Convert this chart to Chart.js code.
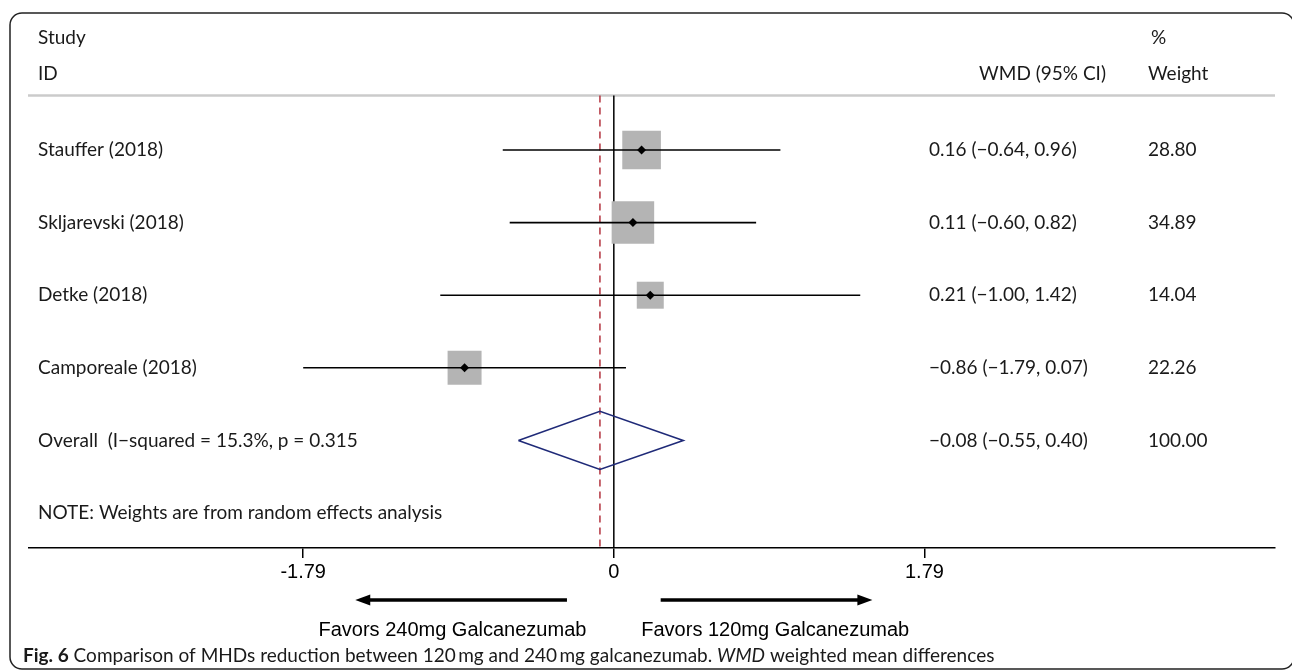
<!DOCTYPE html>
<html lang="en">
<head>
<meta charset="UTF-8">
<title>Forest plot - 120 mg vs 240 mg galcanezumab</title>
<script src="https://cdn.jsdelivr.net/npm/chart.js@4"></script>
<style>
html,body{margin:0;padding:0;background:#fff;overflow:hidden;}
#wrap{position:relative;width:1292px;height:670px;}
</style>
</head>
<body>
<div id="wrap"><canvas id="chart"></canvas></div>
<script>
// study rows
const studies  = ['Stauffer (2018)', 'Skljarevski (2018)', 'Detke (2018)', 'Camporeale (2018)'];
const wmd      = [0.16, 0.11, 0.21, -0.86];
const ciLow    = [-0.64, -0.60, -1.00, -1.79];
const ciHigh   = [0.96, 0.82, 1.42, 0.07];
const weights  = [28.80, 34.89, 14.04, 22.26];

// pooled (random effects)
const overallEst  = -0.08;
const overallLow  = -0.55;
const overallHigh = 0.40;
const overallWeight = 100.00;
const overallLabel = 'Overall  (I\u2212squared = 15.3%, p = 0.315';
const noteText = 'NOTE: Weights are from random effects analysis';

// axis
const tickVals   = [-1.79, 0, 1.79];
const tickLabels = ['-1.79', '0', '1.79'];
const favorsLeft  = 'Favors 240mg Galcanezumab';
const favorsRight = 'Favors 120mg Galcanezumab';

const TXT = '#1a1a1a';
const FONT = 'Lato, "Open Sans", sans-serif';

function fmt(v){ return (v < 0 ? '\u2212' : '') + Math.abs(v).toFixed(2); }
function ciText(e, lo, hi){ return fmt(e) + ' (' + fmt(lo) + ', ' + fmt(hi) + ')'; }

// datasets (first one is drawn on top)
const datasets = [];
// centre dots
datasets.push({
  data: wmd.map((v, i) => ({x: v, y: i + 1})),
  pointStyle: 'rectRot', pointRadius: 4.5, backgroundColor: '#000', borderWidth: 0, showLine: false
});
// CI whiskers
studies.forEach((s, i) => {
  datasets.push({
    data: [{x: ciLow[i], y: i + 1}, {x: ciHigh[i], y: i + 1}],
    showLine: true, borderColor: '#000', borderWidth: 1.6, pointRadius: 0
  });
});
// weight boxes, side proportional to sqrt(weight)
datasets.push({
  data: wmd.map((v, i) => ({x: v, y: i + 1})),
  pointStyle: 'rect',
  pointRadius: weights.map(w => 7.2 * Math.sqrt(w) / Math.SQRT2),
  backgroundColor: '#b4b4b4', borderWidth: 0, showLine: false
});
// pooled diamond
const dh = 0.4;
datasets.push({
  data: [
    {x: overallLow, y: 5}, {x: overallEst, y: 5 - dh}, {x: overallHigh, y: 5},
    {x: overallEst, y: 5 + dh}, {x: overallLow, y: 5}
  ],
  showLine: true, borderColor: '#1f2a78', borderWidth: 1.6, pointRadius: 0, tension: 0
});
// overall effect dashed line
datasets.push({
  data: [{x: overallEst, y: 0.25}, {x: overallEst, y: 6.482}],
  showLine: true, borderColor: '#b3343f', borderWidth: 1.5, borderDash: [7, 5], pointRadius: 0
});
// null line
datasets.push({
  data: [{x: 0, y: 0.25}, {x: 0, y: 6.482}],
  showLine: true, borderColor: '#000', borderWidth: 1.5, pointRadius: 0
});

function arrow(ctx, x0, x1, y){
  const dir = Math.sign(x1 - x0);
  ctx.beginPath();
  ctx.moveTo(x0, y); ctx.lineTo(x1 - dir * 12, y);
  ctx.lineWidth = 3.5; ctx.strokeStyle = '#000'; ctx.stroke();
  ctx.beginPath();
  ctx.moveTo(x1, y); ctx.lineTo(x1 - dir * 15, y - 5.5); ctx.lineTo(x1 - dir * 15, y + 5.5);
  ctx.closePath(); ctx.fillStyle = '#000'; ctx.fill();
}

const forestText = {
  id: 'forestText',
  beforeDraw(chart){
    const {ctx} = chart;
    const ys = chart.scales.y;
    ctx.save();
    // frame
    ctx.strokeStyle = '#222'; ctx.lineWidth = 1.5;
    ctx.beginPath(); ctx.roundRect(10, 13, 1284, 656, 12); ctx.stroke();
    // header rule
    ctx.strokeStyle = '#cbcbcb'; ctx.lineWidth = 2.5;
    const hy = ys.getPixelForValue(0.25);
    ctx.beginPath(); ctx.moveTo(28, hy); ctx.lineTo(1275, hy); ctx.stroke();
    ctx.restore();
  },
  afterDraw(chart){
    const {ctx} = chart;
    const xs = chart.scales.x, ys = chart.scales.y;
    ctx.save();
    ctx.fillStyle = TXT;
    ctx.font = '19px ' + FONT;
    ctx.textBaseline = 'middle';
    ctx.textAlign = 'left';
    const yp = v => ys.getPixelForValue(v);
    const colL = 38, colCI = 929, colW = 1148;

    // header
    ctx.fillText('Study', colL, yp(-0.55));
    ctx.fillText('ID', colL, yp(-0.05));
    ctx.fillText('%', colW + 3, yp(-0.55));
    ctx.fillText('Weight', colW, yp(-0.05));
    ctx.textAlign = 'right';
    ctx.fillText('WMD (95% CI)', 1106, yp(-0.05));
    ctx.textAlign = 'left';

    // study rows
    studies.forEach((s, i) => {
      ctx.fillText(s, colL, yp(i + 1));
      ctx.fillText(ciText(wmd[i], ciLow[i], ciHigh[i]), colCI, yp(i + 1));
      ctx.fillText(weights[i].toFixed(2), colW, yp(i + 1));
    });
    ctx.fillText(overallLabel, colL, yp(5));
    ctx.fillText(ciText(overallEst, overallLow, overallHigh), colCI, yp(5));
    ctx.fillText(overallWeight.toFixed(2), colW, yp(5));
    ctx.fillText(noteText, colL, yp(6));

    // favours arrows + labels
    arrow(ctx, xs.getPixelForValue(-0.27), xs.getPixelForValue(-1.49), 600);
    arrow(ctx, xs.getPixelForValue(0.27), xs.getPixelForValue(1.49), 600);
    ctx.fillStyle = '#000';
    ctx.font = '20px "Liberation Sans", Arial, sans-serif';
    ctx.textAlign = 'center';
    ctx.fillText(favorsLeft, xs.getPixelForValue(-0.93), 630);
    ctx.fillText(favorsRight, xs.getPixelForValue(0.93), 630);

    // caption
    ctx.textAlign = 'left';
    ctx.fillStyle = TXT;
    let cx = 23;
    const cy = 656;
    const parts = [
      ['bold 19px ' + FONT, 'Fig. 6'],
      ['19px ' + FONT, ' Comparison of MHDs reduction between 120\u2009mg and 240\u2009mg galcanezumab. '],
      ['italic 19px ' + FONT, 'WMD'],
      ['19px ' + FONT, ' weighted mean differences']
    ];
    parts.forEach(([f, t]) => {
      ctx.font = f;
      ctx.fillText(t, cx, cy);
      cx += ctx.measureText(t).width;
    });
    ctx.restore();
  }
};

new Chart(document.getElementById('chart'), {
  type: 'scatter',
  data: { datasets },
  options: {
    responsive: true,
    maintainAspectRatio: false,
    animation: false,
    events: [],
    layout: { autoPadding: false, padding: { left: 29, right: 17, top: 13, bottom: 82 } },
    plugins: { legend: { display: false }, tooltip: { enabled: false } },
    scales: {
      x: {
        type: 'linear', min: -3.37, max: 3.81,
        afterBuildTicks: axis => { axis.ticks = tickVals.map(v => ({ value: v })); },
        afterFit: axis => { axis.height = 40; },
        ticks: {
          callback: (v, i) => tickLabels[i],
          font: { family: '"Liberation Sans", Arial, sans-serif', size: 20 },
          color: '#000', padding: 2, autoSkip: false, maxRotation: 0
        },
        grid: { drawOnChartArea: false, drawTicks: true, tickLength: 10, color: '#000', lineWidth: 1.5 },
        border: { display: true, color: '#000', width: 1.6 }
      },
      y: { type: 'linear', display: false, reverse: true, min: -0.887, max: 6.482 }
    }
  },
  plugins: [forestText]
});
</script>
</body>
</html>
